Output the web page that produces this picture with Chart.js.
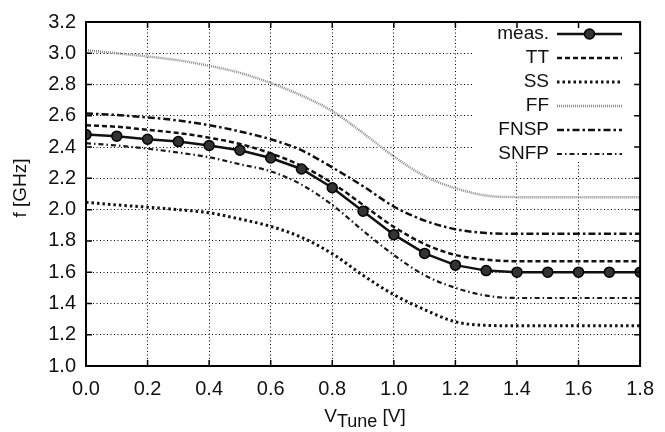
<!DOCTYPE html>
<html>
<head>
<meta charset="utf-8">
<script src="https://cdn.jsdelivr.net/npm/chart.js@4/dist/chart.umd.min.js"></script>
<style>
html, body { margin: 0; padding: 0; background: #fff; }
</style>
</head>
<body>
<canvas id="freqChart" width="665" height="432"></canvas>
<script>
// tuning voltage (V) and frequencies (GHz)
var vTune = [0.0, 0.1, 0.2, 0.3, 0.4, 0.5, 0.6, 0.7, 0.8, 0.9, 1.0, 1.1, 1.2, 1.3, 1.4, 1.5, 1.6, 1.7, 1.8];
var measData = [2.48, 2.47, 2.45, 2.435, 2.41, 2.38, 2.33, 2.26, 2.14, 1.99, 1.84, 1.72, 1.645, 1.61, 1.60, 1.60, 1.60, 1.60, 1.60];
var ttData   = [2.54, 2.53, 2.51, 2.49, 2.46, 2.42, 2.36, 2.28, 2.17, 2.03, 1.89, 1.78, 1.71, 1.68, 1.67, 1.67, 1.67, 1.67, 1.67];
var ssData   = [2.047, 2.03, 2.016, 2.0, 1.98, 1.94, 1.893, 1.823, 1.718, 1.58, 1.456, 1.36, 1.283, 1.26, 1.257, 1.257, 1.257, 1.257, 1.257];
var ffData   = [3.02, 3.00, 2.98, 2.955, 2.92, 2.875, 2.81, 2.73, 2.63, 2.49, 2.34, 2.215, 2.137, 2.09, 2.08, 2.08, 2.08, 2.08, 2.08];
var fnspData = [2.615, 2.605, 2.59, 2.57, 2.54, 2.50, 2.45, 2.38, 2.27, 2.15, 2.02, 1.93, 1.875, 1.85, 1.845, 1.845, 1.845, 1.845, 1.845];
var snfpData = [2.425, 2.41, 2.39, 2.365, 2.335, 2.29, 2.245, 2.16, 2.03, 1.865, 1.71, 1.58, 1.50, 1.45, 1.435, 1.435, 1.435, 1.435, 1.435];

var seriesNames = ['meas.', 'TT', 'SS', 'FF', 'FNSP', 'SNFP'];
var xTicks = [0.0, 0.2, 0.4, 0.6, 0.8, 1.0, 1.2, 1.4, 1.6, 1.8];
var yTicks = [1.0, 1.2, 1.4, 1.6, 1.8, 2.0, 2.2, 2.4, 2.6, 2.8, 3.0, 3.2];

var FONT = '"Liberation Sans", Arial, Helvetica, sans-serif';

function toPoints(ys) {
    return vTune.map(function (v, i) { return { x: v, y: ys[i] }; });
}

function simSet(label, ys, color, width, dash) {
    return {
        label: label,
        data: toPoints(ys),
        borderColor: color,
        borderWidth: width,
        borderDash: dash,
        borderCapStyle: 'butt',
        pointRadius: 0,
        cubicInterpolationMode: 'monotone',
        fill: false
    };
}

var datasets = [
    {
        label: seriesNames[0],
        data: toPoints(measData),
        borderColor: '#111',
        borderWidth: 2.5,
        pointRadius: 5,
        pointBackgroundColor: '#333',
        pointBorderColor: '#000',
        pointBorderWidth: 1.5,
        tension: 0,
        fill: false
    },
    simSet(seriesNames[1], ttData, '#111', 2.5, [5, 3]),
    simSet(seriesNames[2], ssData, '#111', 3, [2.5, 3]),
    simSet(seriesNames[3], ffData, '#8a8a8a', 2.5, [1, 1]),
    simSet(seriesNames[4], fnspData, '#111', 2.5, [7, 3, 2.5, 3]),
    simSet(seriesNames[5], snfpData, '#1a1a1a', 2.2, [5, 3, 1.5, 3])
];

// gnuplot-like frame, inward ticks, legend and axis titles
var framePlugin = {
    id: 'frame',
    afterDatasetsDraw: function (chart) {
        var ctx = chart.ctx;
        var a = chart.chartArea;
        var xs = chart.scales.x, ys = chart.scales.y;
        ctx.save();

        // legend box (white, no border)
        var lx0 = 472, lx1 = 640, ly0 = a.top + 1, ly1 = 162;
        ctx.fillStyle = '#fff';
        ctx.fillRect(lx0, ly0, lx1 - lx0, ly1 - ly0);

        ctx.font = '19px ' + FONT;
        ctx.textAlign = 'right';
        ctx.textBaseline = 'middle';
        var rowY = [34, 58, 82, 106, 130, 154];
        for (var i = 0; i < datasets.length; i++) {
            var ds = datasets[i];
            var yy = rowY[i];
            ctx.fillStyle = '#111';
            ctx.fillText(seriesNames[i], 549, yy);
            ctx.beginPath();
            ctx.strokeStyle = ds.borderColor;
            ctx.lineWidth = ds.borderWidth;
            ctx.setLineDash(ds.borderDash || []);
            ctx.moveTo(557, yy);
            ctx.lineTo(622, yy);
            ctx.stroke();
            ctx.setLineDash([]);
            if (i === 0) {
                ctx.beginPath();
                ctx.arc(589.5, yy, 5, 0, Math.PI * 2);
                ctx.fillStyle = '#333';
                ctx.fill();
                ctx.lineWidth = 1.5;
                ctx.strokeStyle = '#000';
                ctx.stroke();
            }
        }

        // inward tick marks on all sides
        ctx.strokeStyle = '#000';
        ctx.lineWidth = 1.5;
        ctx.beginPath();
        xTicks.forEach(function (t) {
            var px = xs.getPixelForValue(t);
            ctx.moveTo(px, a.bottom); ctx.lineTo(px, a.bottom - 6);
            ctx.moveTo(px, a.top); ctx.lineTo(px, a.top + 6);
        });
        yTicks.forEach(function (t) {
            var py = ys.getPixelForValue(t);
            ctx.moveTo(a.left, py); ctx.lineTo(a.left + 6, py);
            ctx.moveTo(a.right, py); ctx.lineTo(a.right - 6, py);
        });
        ctx.stroke();

        // frame
        ctx.lineWidth = 2;
        ctx.strokeRect(a.left, a.top, a.right - a.left, a.bottom - a.top);

        // axis titles
        ctx.fillStyle = '#111';
        ctx.textBaseline = 'alphabetic';
        ctx.textAlign = 'left';
        var sub = 'Tune', rest = ' [V]';
        ctx.font = '19px ' + FONT;
        var wV = ctx.measureText('V').width;
        var wR = ctx.measureText(rest).width;
        ctx.font = '18px ' + FONT;
        var wS = ctx.measureText(sub).width;
        var cx = (a.left + a.right) / 2 + 2;
        var startX = cx - (wV + wS + wR) / 2;
        ctx.font = '19px ' + FONT;
        ctx.fillText('V', startX, 422);
        ctx.font = '18px ' + FONT;
        ctx.fillText(sub, startX + wV, 427);
        ctx.font = '19px ' + FONT;
        ctx.fillText(rest, startX + wV + wS, 422);

        ctx.translate(21, 188);
        ctx.rotate(-Math.PI / 2);
        ctx.textAlign = 'center';
        ctx.textBaseline = 'middle';
        ctx.fillText('f [GHz]', 0, 0);
        ctx.restore();
    }
};

var ctxF = document.getElementById('freqChart').getContext('2d');
var freqChart = new Chart(ctxF, {
    type: 'line',
    data: { datasets: datasets },
    options: {
        responsive: false,
        animation: false,
        devicePixelRatio: 1,
        layout: { padding: { top: 15, right: 14, left: 0, bottom: 0 } },
        plugins: { legend: { display: false }, tooltip: { enabled: false } },
        scales: {
            x: {
                type: 'linear',
                min: 0, max: 1.8,
                afterBuildTicks: function (s) { s.ticks = xTicks.map(function (v) { return { value: v }; }); },
                afterFit: function (s) { s.height = 66; },
                grid: { color: '#000', lineWidth: 1, drawTicks: false },
                border: { display: false, dash: [1, 2.5] },
                ticks: {
                    padding: 11,
                    color: '#111',
                    font: { family: FONT, size: 20 },
                    callback: function (v) { return v.toFixed(1); }
                }
            },
            y: {
                type: 'linear',
                min: 1.0, max: 3.2,
                afterBuildTicks: function (s) { s.ticks = yTicks.map(function (v) { return { value: v }; }); },
                afterFit: function (s) { s.width = 86; },
                grid: { color: '#000', lineWidth: 1, drawTicks: false },
                border: { display: false, dash: [1, 2.5] },
                ticks: {
                    padding: 10,
                    color: '#111',
                    font: { family: FONT, size: 20 },
                    callback: function (v) { return v.toFixed(1); }
                }
            }
        }
    },
    plugins: [framePlugin]
});
</script>
</body>
</html>
